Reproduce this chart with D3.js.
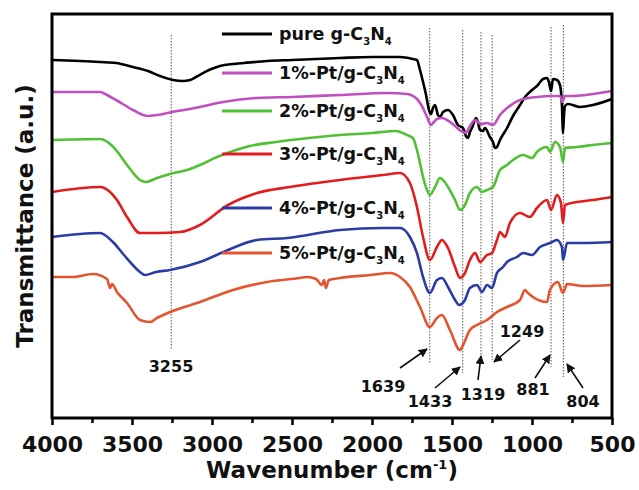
<!DOCTYPE html>
<html>
<head>
<meta charset="utf-8">
<script src="https://cdn.jsdelivr.net/npm/d3@7/dist/d3.min.js"></script>
<style>
  body { margin: 0; background: #fff; }
  text { font-family: "DejaVu Sans", sans-serif; font-weight: bold; fill: #111; }
</style>
</head>
<body>
<svg id="chart" width="639" height="490"></svg>
<script>
// legend labels, top to bottom
var names = ["pure g-C3N4", "1%-Pt/g-C3N4", "2%-Pt/g-C3N4", "3%-Pt/g-C3N4", "4%-Pt/g-C3N4", "5%-Pt/g-C3N4"];

// [wavenumber cm-1, transmittance a.u. (offset stacked)]
var pure = [[4000,360],[3700,358],[3600,357],[3494,353],[3400,349],[3325,344],[3244,340],[3181,339],[3137,340],[3100,343],[3019,350],[2950,354],[2869,356],[2800,357],[2656,359],[2500,360],[2200,362],[2000,363],[1825,363],[1744,361],[1719,360],[1700,350],[1681,338],[1662,325],[1644,310],[1631,306],[1619,312],[1606,315],[1588,305],[1575,303],[1556,308],[1525,310],[1494,305],[1463,295],[1431,292],[1413,284],[1400,282],[1388,288],[1375,292],[1350,302],[1338,298],[1325,290],[1306,289],[1294,292],[1263,283],[1244,278],[1231,272],[1219,273],[1200,280],[1156,292],[1119,304],[1075,315],[1044,323],[1000,330],[969,334],[931,341],[906,342],[894,338],[881,329],[869,341],[844,340],[825,335],[813,315],[806,287],[800,305],[794,314],[775,316],[700,313],[620,315],[500,321]];
var pt1 = [[4000,328],[3700,328],[3656,325],[3600,320],[3494,310],[3431,305],[3400,304],[3344,305],[3250,308],[3075,313],[2931,318],[2719,322],[2500,323],[2200,325],[1906,327],[1781,326],[1719,321],[1688,314],[1656,303],[1631,295],[1613,298],[1594,301],[1563,302],[1531,300],[1481,294],[1444,289],[1413,287],[1394,292],[1356,300],[1319,296],[1281,297],[1244,295],[1200,305],[1156,312],[1075,320],[969,323],[869,324],[825,324],[810,318],[794,324],[744,324],[619,326],[500,329]];
var pt2 = [[4000,280],[3700,281],[3644,277],[3600,270],[3531,255],[3450,240],[3413,238],[3344,242],[3262,246],[3137,251],[3075,255],[2969,263],[2869,269],[2763,274],[2600,278],[2450,281],[2200,285],[2000,287],[1850,289],[1781,285],[1744,282],[1719,270],[1700,257],[1681,243],[1656,230],[1638,225],[1606,233],[1575,242],[1550,239],[1525,233],[1481,220],[1450,210],[1419,215],[1388,227],[1344,233],[1313,228],[1281,230],[1244,233],[1200,250],[1156,255],[1119,260],[1056,265],[1000,262],[969,268],[906,273],[888,268],[856,278],[825,273],[806,258],[794,272],[719,273],[619,275],[500,277]];
var pt3 = [[4000,228],[3700,233],[3637,228],[3594,220],[3531,203],[3450,187],[3344,187],[3200,188],[3075,195],[2900,215],[2719,227],[2513,233],[2200,240],[1931,245],[1825,247],[1763,237],[1719,213],[1681,183],[1638,160],[1594,173],[1563,180],[1525,172],[1481,153],[1450,142],[1419,147],[1388,160],[1356,167],[1325,158],[1281,165],[1250,167],[1219,180],[1200,188],[1169,183],[1138,197],[1075,207],[1013,203],[969,212],[906,220],[881,210],[844,225],[819,217],[806,197],[794,215],[719,218],[619,220],[500,223]];
var pt4 = [[4000,183],[3700,187],[3619,178],[3550,165],[3450,148],[3420,145],[3350,148],[3262,150],[3075,158],[2900,170],[2719,180],[2530,182],[2200,190],[1931,192],[1825,192],[1763,183],[1719,167],[1681,143],[1638,127],[1594,140],[1563,142],[1525,133],[1481,120],[1456,115],[1419,120],[1388,132],[1344,135],[1313,128],[1281,135],[1250,132],[1219,147],[1181,153],[1156,158],[1094,163],[1056,167],[1000,165],[950,173],[888,177],[844,180],[813,173],[806,160],[781,177],[681,177],[500,178]];
var pt5 = [[4000,143],[3869,143],[3744,146],[3656,141],[3637,132],[3625,136],[3594,128],[3531,117],[3450,100],[3387,98],[3344,102],[3262,108],[3075,118],[2869,130],[2656,138],[2450,142],[2406,143],[2350,141],[2312,135],[2300,140],[2288,132],[2270,140],[2200,142],[2012,145],[1888,147],[1825,143],[1763,133],[1700,113],[1638,93],[1594,102],[1563,105],[1513,90],[1450,70],[1431,75],[1388,90],[1344,95],[1281,100],[1219,108],[1156,113],[1075,120],[1044,130],[1025,127],[994,123],[906,118],[888,130],[838,138],[806,127],[781,136],[681,134],[500,135]];

// marked bands (cm-1)
var peaks = [3255, 1639, 1433, 1319, 1249, 881, 804];
var xTicks = [4000, 3500, 3000, 2500, 2000, 1500, 1000, 500];

var series = [pure, pt1, pt2, pt3, pt4, pt5];
var colors = ["#000000", "#c04fc0", "#52c034", "#e11d1d", "#2b3ca6", "#e4542e"];
var legendY = [34, 73, 111, 154, 208, 253];

// guide line extents and label / arrow placement, per peak
var peakLayout = [
  {top: 35, bottom: 350, tx: 171, ty: 372, arrow: null},
  {top: 28, bottom: 363, tx: 383, ty: 392, arrow: [400, 368, 427, 349]},
  {top: 30, bottom: 373, tx: 430, ty: 407, arrow: [435, 388, 460, 367]},
  {top: 32, bottom: 355, tx: 483, ty: 400, arrow: [478, 380, 481, 356]},
  {top: 35, bottom: 360, tx: 522, ty: 337, arrow: [520, 340, 494, 362]},
  {top: 27, bottom: 367, tx: 533, ty: 395, arrow: [535, 378, 550, 355]},
  {top: 25, bottom: 377, tx: 583, ty: 407, arrow: [583, 388, 567, 364]}
];

var L = 52, R = 612, T = 14, B = 418;
var svg = d3.select("#chart");

var x = d3.scaleLinear().domain([4000, 500]).range([L, R]);
var y = d3.scaleLinear().domain([0, 406]).range([420, 14]);

var defs = svg.append("defs");
defs.append("marker").attr("id", "arr")
  .attr("viewBox", "0 0 10 10").attr("refX", 9).attr("refY", 5)
  .attr("markerWidth", 9).attr("markerHeight", 9)
  .attr("markerUnits", "userSpaceOnUse").attr("orient", "auto")
  .append("path").attr("d", "M0,0 L10,5 L0,10 z").attr("fill", "#111");
defs.append("clipPath").attr("id", "clip")
  .append("rect").attr("x", L).attr("y", T).attr("width", R - L).attr("height", B - T);

// dotted guides
svg.selectAll(".guide").data(peaks).enter().append("line")
  .attr("x1", function (d) { return x(d); })
  .attr("x2", function (d) { return x(d); })
  .attr("y1", function (d, i) { return peakLayout[i].top; })
  .attr("y2", function (d, i) { return peakLayout[i].bottom; })
  .attr("stroke", "#555").attr("stroke-width", 1).attr("stroke-dasharray", "1.5,1.5");

var line = d3.line()
  .x(function (d) { return x(d[0]); })
  .y(function (d) { return y(d[1]); })
  .curve(d3.curveMonotoneX);

var g = svg.append("g").attr("clip-path", "url(#clip)");
series.forEach(function (s, i) {
  g.append("path").datum(s).attr("d", line)
    .attr("fill", "none").attr("stroke", colors[i])
    .attr("stroke-width", 2.6).attr("stroke-linejoin", "round");
});

// frame
svg.append("rect").attr("x", L).attr("y", T).attr("width", R - L).attr("height", B - T)
  .attr("fill", "none").attr("stroke", "#000").attr("stroke-width", 3);

// x axis
var xAxis = d3.axisBottom(x).tickValues(xTicks).tickSize(7).tickPadding(11)
  .tickFormat(d3.format("d"));
var ax = svg.append("g").attr("transform", "translate(0," + B + ")").call(xAxis);
ax.select(".domain").remove();
ax.selectAll(".tick line").attr("stroke", "#000").attr("stroke-width", 2.5);
ax.selectAll(".tick text").attr("font-size", 22).attr("font-family", "DejaVu Sans")
  .attr("font-weight", "bold").attr("fill", "#111");
var minor = d3.range(3750, 500, -500);
svg.append("g").attr("transform", "translate(0," + B + ")")
  .call(d3.axisBottom(x).tickValues(minor).tickSize(5).tickFormat(""))
  .call(function (a) { a.select(".domain").remove(); })
  .selectAll(".tick line").attr("stroke", "#000").attr("stroke-width", 2.5);

// axis titles
var xt = svg.append("text").attr("x", (L + R) / 2).attr("y", 478)
  .attr("text-anchor", "middle").attr("font-size", 23);
xt.append("tspan").text("Wavenumber (cm");
xt.append("tspan").attr("font-size", 13).attr("dy", -9).text("-1");
xt.append("tspan").attr("dy", 9).text(")");

svg.append("text").attr("transform", "translate(33," + (T + B) / 2 + ") rotate(-90)")
  .attr("text-anchor", "middle").attr("font-size", 23).text("Transmittance (a.u.)");

// legend
names.forEach(function (n, i) {
  var ly = legendY[i];
  svg.append("line").attr("x1", 222).attr("x2", 272).attr("y1", ly).attr("y2", ly)
    .attr("stroke", colors[i]).attr("stroke-width", 3);
  var t = svg.append("text").attr("x", 279).attr("y", ly + 6).attr("font-size", 17.5);
  var m = n.match(/^(.*C)3N4$/);
  t.append("tspan").text(m[1]);
  t.append("tspan").attr("font-size", 10).attr("dy", 5).text("3");
  t.append("tspan").attr("dy", -5).text("N");
  t.append("tspan").attr("font-size", 10).attr("dy", 5).text("4");
});

// peak labels and arrows
peaks.forEach(function (p, i) {
  var lay = peakLayout[i];
  svg.append("text").attr("x", lay.tx).attr("y", lay.ty).attr("text-anchor", "middle")
    .attr("font-size", 16).text(p);
  if (lay.arrow) {
    svg.append("line").attr("x1", lay.arrow[0]).attr("y1", lay.arrow[1])
      .attr("x2", lay.arrow[2]).attr("y2", lay.arrow[3])
      .attr("stroke", "#111").attr("stroke-width", 1.6).attr("marker-end", "url(#arr)");
  }
});
</script>
</body>
</html>
